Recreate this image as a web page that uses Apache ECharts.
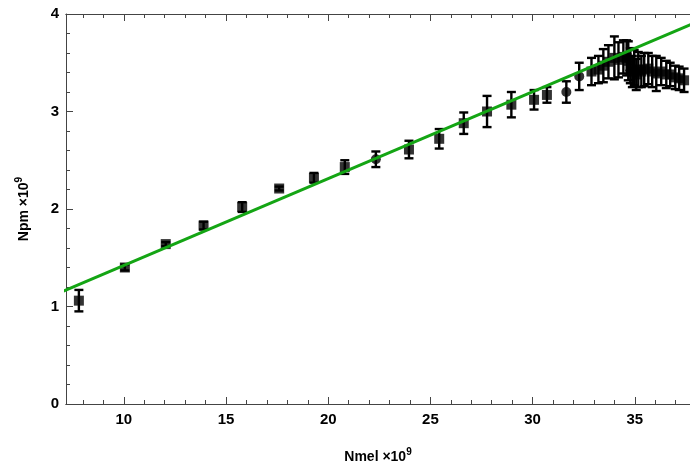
<!DOCTYPE html>
<html>
<head>
<meta charset="utf-8">
<script src="https://cdn.jsdelivr.net/npm/echarts@6/dist/echarts.min.js"></script>
<style>html,body{margin:0;padding:0;background:#fff}#c{width:690px;height:470px}</style>
</head>
<body>
<div id="c"></div>
<script>
// ---- data (units of 1e9) ----
const sqX   = [7.80, 10.05, 12.05, 13.90, 15.79, 17.60, 19.30, 20.81, 23.95, 25.43, 26.63, 27.77, 28.96, 30.07, 30.70,
               32.88, 33.22, 33.46, 33.71, 34.00, 34.20, 34.44, 34.60, 34.68, 34.88, 35.07, 35.17, 35.32, 35.46, 35.66, 35.85, 36.05, 36.29, 36.54, 36.73, 36.98, 37.17, 37.41];
const sqY   = [1.06, 1.40, 1.64, 1.83, 2.02, 2.21, 2.32, 2.43, 2.61, 2.72, 2.88, 3.00, 3.07, 3.12, 3.17,
               3.41, 3.43, 3.47, 3.51, 3.55, 3.53, 3.56, 3.55, 3.52, 3.41, 3.38, 3.43, 3.41, 3.43, 3.44, 3.41, 3.39, 3.41, 3.38, 3.38, 3.35, 3.34, 3.32];
const sqErr = [0.11, 0.03, 0.02, 0.04, 0.05, 0.02, 0.05, 0.07, 0.09, 0.10, 0.11, 0.16, 0.13, 0.10, 0.08,
               0.14, 0.14, 0.17, 0.17, 0.22, 0.18, 0.17, 0.18, 0.20, 0.16, 0.16, 0.18, 0.16, 0.17, 0.16, 0.16, 0.18, 0.14, 0.14, 0.12, 0.12, 0.12, 0.12];
const ciX   = [22.33, 31.65, 32.28];
const ciY   = [2.51, 3.20, 3.36];
const ciErr = [0.08, 0.11, 0.14];
const trX   = [34.78, 34.97];
const trY   = [3.47, 3.45];
const trErr = [0.18, 0.18];
const fitX  = [7.0, 38.0];
const fitY  = [1.155, 3.915];
const xMajorTicks = [10, 15, 20, 25, 30, 35];
const xMinorTicks = [8, 9, 11, 12, 13, 14, 16, 17, 18, 19, 21, 22, 23, 24, 26, 27, 28, 29, 31, 32, 33, 34, 36, 37];
const yTicks = [0, 1, 2, 3, 4];
const xMin = 7.17, xMax = 37.7;

// ---- build ----
const zip3 = (a, b, c) => a.map((v, i) => [v, b[i], c[i]]);
const axisCol = '#444';
const FONT = 'Liberation Sans';

function errRender(params, api) {
  const x = api.value(0), y = api.value(1), e = api.value(2);
  const t = api.coord([x, y + e]);
  const b = api.coord([x, y - e]);
  const hw = 4.5;
  const st = { stroke: '#000', lineWidth: 2.4 };
  return {
    type: 'group',
    children: [
      { type: 'line', shape: { x1: t[0], y1: t[1], x2: b[0], y2: b[1] }, style: st },
      { type: 'line', shape: { x1: t[0] - hw, y1: t[1], x2: t[0] + hw, y2: t[1] }, style: st },
      { type: 'line', shape: { x1: b[0] - hw, y1: b[1], x2: b[0] + hw, y2: b[1] }, style: st }
    ]
  };
}

function xAx(pos, ticks, len, labels, extra) {
  return Object.assign({
    type: 'value', position: pos, min: xMin, max: xMax,
    axisLine: { show: true, onZero: false, lineStyle: { color: axisCol, width: 1 } },
    axisTick: { show: true, inside: true, length: len, customValues: ticks, lineStyle: { color: axisCol, width: 1 } },
    axisLabel: labels ? { show: true, customValues: ticks, color: '#000', fontFamily: FONT, fontWeight: 'bold', fontSize: 15, margin: 8 } : { show: false },
    splitLine: { show: false }
  }, extra || {});
}

const richName = {
  a: { fontFamily: FONT, fontWeight: 'bold', fontSize: 14, color: '#000', lineHeight: 20 },
  s: { fontFamily: FONT, fontWeight: 'bold', fontSize: 10, color: '#000', lineHeight: 10, verticalAlign: 'top' }
};

const chart = echarts.init(document.getElementById('c'), null, { renderer: 'canvas' });
chart.setOption({
  animation: false,
  backgroundColor: '#fff',
  grid: { left: 66, right: 0, top: 14, bottom: 66, containLabel: false },
  xAxis: [
    xAx('bottom', xMajorTicks, 7, true, {
      name: '{a|Nmel ×10}{s|9}', nameLocation: 'middle', nameGap: 43,
      nameTextStyle: { rich: richName }
    }),
    xAx('bottom', xMinorTicks, 4, false),
    xAx('top', xMajorTicks, 7, false),
    xAx('top', xMinorTicks, 4, false)
  ],
  yAxis: [{
    type: 'value', min: 0, max: 4, interval: 1,
    axisLine: { show: true, lineStyle: { color: axisCol, width: 1 } },
    axisTick: { show: true, inside: true, length: 7, lineStyle: { color: axisCol } },
    minorTick: { show: true, splitNumber: 5, length: 4, lineStyle: { color: axisCol } },
    axisLabel: { color: '#000', fontFamily: FONT, fontWeight: 'bold', fontSize: 15, margin: 7,
                 customValues: yTicks },
    splitLine: { show: false },
    name: '{a|Npm ×10}{s|9}', nameLocation: 'middle', nameRotate: 90, nameGap: 32,
    nameTextStyle: { rich: richName }
  }],
  series: [
    { type: 'line', data: fitX.map((v, i) => [v, fitY[i]]), showSymbol: false, symbol: 'none',
      lineStyle: { color: '#14a514', width: 3 }, clip: true, z: 5 },
    { type: 'custom', renderItem: errRender, data: zip3(sqX, sqY, sqErr), clip: true, z: 3 },
    { type: 'custom', renderItem: errRender, data: zip3(ciX, ciY, ciErr), clip: true, z: 3 },
    { type: 'custom', renderItem: errRender, data: zip3(trX, trY, trErr), clip: true, z: 3 },
    { type: 'scatter', data: sqX.map((v, i) => [v, sqY[i]]), symbol: 'rect', symbolSize: 10,
      itemStyle: { color: '#000' }, z: 4 },
    { type: 'scatter', data: ciX.map((v, i) => [v, ciY[i]]), symbol: 'circle', symbolSize: 10,
      itemStyle: { color: '#000' }, z: 4 },
    { type: 'scatter', data: trX.map((v, i) => [v, trY[i]]), symbol: 'triangle', symbolSize: 11,
      itemStyle: { color: '#000' }, z: 4 }
  ]
});
</script>
</body>
</html>
